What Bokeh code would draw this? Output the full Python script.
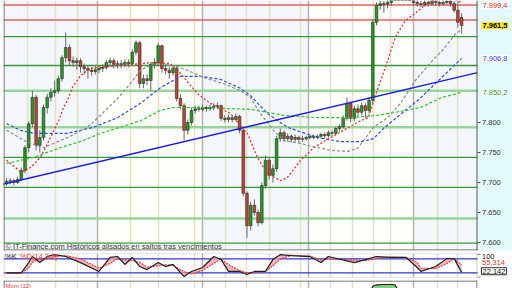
from bokeh.plotting import figure
from bokeh.layouts import column
from bokeh.models import Range1d, Label, Span, BoxAnnotation
from bokeh.embed import file_html
from bokeh.resources import INLINE

FONT = "Liberation Sans"

# ---------------- candles (index 0..123) ----------------
opens = [7698, 7702, 7703, 7700, 7705, 7720, 7758, 7798, 7842, 7762,
         7775, 7825, 7842, 7850, 7853, 7873, 7908, 7925, 7903, 7900,
         7903, 7893, 7890, 7887, 7885, 7888, 7890, 7892, 7900, 7903,
         7897, 7898, 7897, 7900, 7898, 7917, 7933, 7865, 7873, 7870,
         7897, 7900, 7928, 7890, 7887, 7883, 7890, 7840, 7828, 7787,
         7800, 7820, 7823, 7822, 7825, 7823, 7825, 7827, 7828, 7807,
         7805, 7808, 7805, 7810, 7787, 7682, 7628, 7662, 7650, 7633,
         7695, 7737, 7712, 7723, 7773, 7783, 7773, 7777, 7772, 7775,
         7772, 7773, 7775, 7777, 7775, 7777, 7780, 7778, 7783, 7782,
         7790, 7793, 7807, 7832, 7807, 7823, 7817, 7828, 7820, 7837,
         7967, 7995, 7998, 7997, 8000, 8008, 8017, 8023, 8020, 8013,
         8007, 8000, 7998, 7997, 8000, 7998, 8002, 8000, 7998, 8000,
         8002, 7998, 7987, 7975]
highs = [7707, 7707, 7706, 7710, 7725, 7762, 7802, 7853, 7846, 7787,
         7830, 7848, 7857, 7870, 7878, 7912, 7950, 7930, 7910, 7908,
         7907, 7898, 7895, 7893, 7895, 7895, 7897, 7905, 7908, 7907,
         7903, 7904, 7905, 7905, 7922, 7937, 7936, 7880, 7880, 7900,
         7907, 7933, 7930, 7897, 7893, 7895, 7893, 7847, 7832, 7805,
         7825, 7828, 7828, 7830, 7828, 7830, 7832, 7833, 7830, 7812,
         7813, 7812, 7815, 7813, 7790, 7685, 7668, 7672, 7655, 7700,
         7745, 7742, 7730, 7778, 7790, 7787, 7782, 7780, 7780, 7778,
         7778, 7778, 7780, 7780, 7780, 7783, 7783, 7787, 7787, 7793,
         7797, 7812, 7842, 7835, 7828, 7830, 7833, 7832, 7842, 7972,
         8000, 8003, 8003, 8005, 8012, 8022, 8028, 8027, 8022, 8017,
         8010, 8005, 8003, 8005, 8003, 8005, 8005, 8003, 8005, 8005,
         8005, 8002, 8003, 7982]
lows = [7695, 7697, 7695, 7698, 7702, 7715, 7750, 7792, 7753, 7750,
        7770, 7815, 7835, 7843, 7848, 7868, 7900, 7895, 7893, 7888,
        7883, 7880, 7873, 7878, 7880, 7882, 7884, 7888, 7893, 7890,
        7890, 7890, 7892, 7892, 7895, 7912, 7857, 7857, 7862, 7853,
        7890, 7895, 7883, 7880, 7873, 7878, 7835, 7822, 7770, 7780,
        7795, 7815, 7818, 7818, 7818, 7820, 7820, 7822, 7803, 7800,
        7800, 7800, 7802, 7782, 7677, 7608, 7620, 7645, 7627, 7630,
        7690, 7705, 7700, 7718, 7768, 7768, 7768, 7767, 7768, 7765,
        7768, 7770, 7772, 7772, 7772, 7773, 7773, 7775, 7777, 7778,
        7785, 7790, 7803, 7800, 7802, 7810, 7812, 7807, 7815, 7832,
        7962, 7988, 7983, 7990, 7995, 8005, 8012, 8013, 8008, 8002,
        7995, 7993, 7992, 7993, 7993, 7995, 7995, 7993, 7995, 7997,
        7993, 7983, 7958, 7948]
closes = [7702, 7703, 7700, 7705, 7720, 7758, 7798, 7842, 7762, 7775,
          7825, 7842, 7850, 7853, 7873, 7908, 7925, 7903, 7900, 7903,
          7893, 7890, 7887, 7885, 7888, 7890, 7892, 7900, 7903, 7897,
          7898, 7897, 7900, 7898, 7917, 7933, 7865, 7873, 7870, 7897,
          7900, 7928, 7890, 7887, 7883, 7890, 7840, 7828, 7787, 7800,
          7820, 7823, 7822, 7825, 7823, 7825, 7827, 7828, 7807, 7805,
          7808, 7805, 7810, 7787, 7682, 7628, 7662, 7650, 7633, 7695,
          7737, 7712, 7723, 7773, 7783, 7773, 7777, 7772, 7775, 7772,
          7773, 7775, 7777, 7775, 7777, 7780, 7778, 7783, 7782, 7790,
          7793, 7807, 7832, 7807, 7823, 7817, 7828, 7820, 7837, 7967,
          7995, 7998, 7997, 8000, 8008, 8017, 8023, 8020, 8013, 8007,
          8000, 7998, 7997, 8000, 7998, 8002, 8000, 7998, 8000, 8002,
          7998, 7987, 7967, 7961.5]

# ---------------- moving averages (knots) ----------------
red_x = [0, 4, 6.5, 9.2, 11.9, 14.1, 15.4, 16.5, 17.8, 20, 22.7, 25.4, 30.8, 39.7, 44.3, 47, 51.6,
         55.1, 60.5, 65.1, 67.8, 70.5, 74.1, 75.9, 79.5, 83, 87.6, 91.1, 95.7, 97.8, 99.7, 102.4,
         105.1, 107.8, 110.5, 112.4, 115.1, 118.6, 121.4, 123]
red_y = [7737, 7717, 7725, 7742, 7775, 7803, 7825, 7837, 7858, 7878, 7890, 7892, 7895, 7900, 7898,
         7882, 7848, 7832, 7815, 7782, 7742, 7715, 7703, 7708, 7737, 7758, 7775, 7787, 7803, 7808,
         7845, 7892, 7942, 7970, 7982, 7992, 8003, 8008, 8005, 7999.4]
gray_x = [0, 5.7, 10, 16.5, 21.9, 25.4, 30, 33.5, 36.2, 39.7, 45.1, 48.9, 53.2, 58.6, 63.2, 65.9,
          68.6, 72.2, 74.9, 79.5, 84, 88.4, 92.2, 94.9, 96.5, 99.2, 103, 106.5, 110.5, 115.1, 117.8,
          121.4, 123]
gray_y = [7787, 7767, 7758, 7775, 7792, 7812, 7840, 7865, 7887, 7898, 7895, 7887, 7875, 7865, 7853,
          7842, 7815, 7787, 7770, 7765, 7758, 7753, 7752, 7757, 7770, 7792, 7808, 7832, 7870, 7903,
          7920, 7948, 7955]
blue_x = [0, 3.8, 7.3, 16.5, 23.5, 30, 36.2, 41.6, 47, 52.4, 57.8, 63.2, 65.9, 70.5, 75.9, 84, 90.3,
          95.7, 99.2, 101.9, 105.4, 111.4, 116.8, 123]
blue_y = [7798, 7787, 7782, 7782, 7792, 7808, 7832, 7858, 7877, 7877, 7872, 7857, 7845, 7815, 7792,
          7775, 7768, 7768, 7773, 7790, 7808, 7838, 7870, 7906.8]
green_x = [0, 3.8, 7.3, 14.6, 20.8, 25.4, 30.8, 36.2, 41.6, 45.1, 53.2, 60.5, 65.9, 74.9, 84, 93,
           100.3, 107.8, 111.9, 117.8, 123]
green_y = [7732, 7737, 7742, 7758, 7770, 7782, 7792, 7803, 7820, 7825, 7825, 7823, 7822, 7812, 7808,
           7808, 7812, 7820, 7825, 7842, 7850.2]
trend_x = [-1, 127.3]
trend_y = [7696.9, 7883.0]

red_levels = [7996, 7971]
green_levels = [7943, 7895, 7742, 7692, 7599]
lightgreen_levels = [7853, 7792, 7640]

axis_ticks = [7600, 7650, 7700, 7750, 7800]
axis_labels = ["7.600", "7.650", "7.700", "7.750", "7.800"]

value_marks = [7995.3, 7961.5, 7906.8, 7850.2]
value_texts = ["7.999,4", "7.961,5", "7.906,8", "7.850,2"]

grid_light = [5.7, 13.2, 19.2, 33.5, 41.1, 50.8, 59.2, 64.9, 71.1, 79.5, 87.6, 93.5, 99.2, 103.8, 116.5, 121.9]
grid_dark = [24.6, 53, 81.6, 110]

# ---------------- stochastic ----------------
stoch_x = [0, 4, 6, 7, 9, 10, 11, 13, 16, 20, 25, 28, 30, 32, 34, 36, 38, 41, 43, 45, 48, 50, 53, 56,
           58, 60, 63, 65, 67, 70, 72, 74, 77, 82, 85, 87, 94, 97, 100, 104, 108, 111, 112, 116, 119,
           121, 123]
stoch_k = [20, 20, 64, 90, 64, 77, 90, 98, 90, 64, 26, 86, 90, 56, 86, 47, 34, 64, 47, 56, 4, 26, 43,
           90, 77, 26, 26, 13, 26, 26, 77, 98, 94, 90, 64, 90, 64, 77, 90, 86, 86, 43, 26, 47, 81, 81,
           22.142]
stoch_d = [20, 20, 40, 65, 80, 75, 80, 90, 94, 80, 40, 60, 80, 75, 72, 65, 45, 50, 55, 52, 25, 15, 30,
           60, 80, 55, 30, 20, 22, 26, 50, 80, 95, 92, 75, 80, 75, 72, 82, 88, 86, 65, 40, 38, 60, 80,
           55.314]
stoch_levels = [80, 20]

# ---------------- momentum (only its top is visible) ----------------
mom_x = [0, 4, 7, 9, 11, 12, 13, 15, 18, 22, 30, 40, 50, 60, 64, 66, 70, 73, 74, 75, 76, 78, 85, 92,
         98, 99, 100, 102, 104, 105, 106, 108, 112, 118, 123]
mom_v = [10, 30, 70, 95, 112, 115, 112, 100, 80, 50, 20, 10, -20, -40, -90, -150, -60, 80, 112, 113,
         100, 70, 30, 40, 60, 150, 168, 172, 172, 168, 95, 80, 60, 30, -10]

# =====================================================================
# frame covers x = 3 .. 512 px; candle pitch 3.7 px; plot area ends at index 127.3 (px 477)
XMIN, XEND, XMAX = -0.811, 127.3, 136.76
PX = 1 / 3.7            # one pixel in index units
XR = Range1d(XMIN, XMAX)
Y0, Y1 = 7586.7, 8003.3


def base_fig(h, yr, top, bottom):
    f = figure(width=512, height=h, x_range=XR, y_range=yr, output_backend="svg",
               toolbar_location=None, title=None, x_axis_location=None, y_axis_location=None,
               min_border_left=3, min_border_right=0, min_border_top=top, min_border_bottom=bottom)
    f.grid.visible = False
    f.outline_line_color = None
    f.border_fill_color = "#ffffff"
    return f


def lab(f, x, y, text, color="#333333", size="7.5px", **kw):
    f.add_layout(Label(x=x, y=y, text=text, text_font=FONT, text_font_size=size,
                       text_color=color, text_baseline="middle", **kw))


# ---------------- main panel ----------------
p1 = base_fig(251, Range1d(Y0, Y1), 0, 1)
p1.background_fill_color = "#fefefa"
for l, r in [(XMIN, 24.6), (53, 81.6), (110, XEND)]:
    p1.add_layout(BoxAnnotation(left=l, right=r, bottom=Y0, top=Y1, fill_color="#f3f7fb",
                                fill_alpha=1, line_color=None, level="underlay"))
p1.add_layout(BoxAnnotation(left=XEND, right=XMAX, bottom=Y0, top=Y1, fill_color="#e2fafa",
                            fill_alpha=1, line_color=None, level="underlay"))

p1.vspan(x=grid_light, line_color="#e6e0c6", line_width=1.5)
p1.vspan(x=grid_dark, line_color="#b4b4ac", line_width=1.5)


def hlines(f, levels, **kw):
    f.segment(x0=[XMIN] * len(levels), x1=[XEND] * len(levels), y0=levels, y1=levels, **kw)


hlines(p1, lightgreen_levels, line_color="#8fd08f", line_width=2.5, line_alpha=0.9)
hlines(p1, green_levels, line_color="#3a9a3a", line_width=1.3)
hlines(p1, red_levels, line_color="#e06060", line_width=1.5)

up = [c >= o for o, c in zip(opens, closes)]
idx = list(range(len(closes)))
body_top = [max(o, c) for o, c in zip(opens, closes)]
body_bot = [min(o, c) for o, c in zip(opens, closes)]
body_col = ["#1e9e1e" if u else "#c8402a" for u in up]
p1.segment(x0=idx, y0=lows, x1=idx, y1=highs, line_color="#6a6a6a", line_width=1)
p1.vbar(x=idx, width=0.72, top=body_top, bottom=body_bot, fill_color=body_col,
        line_color="#2a2a2a", line_width=0.6)

p1.line(green_x, green_y, line_color="#2ec42e", line_dash="3 2", line_width=1.2)
p1.line(blue_x, blue_y, line_color="#3050e6", line_dash="3 2", line_width=1.2)
p1.line(gray_x, gray_y, line_color="#8c8c8c", line_dash="3 2", line_width=1.2)
p1.line(red_x, red_y, line_color="#e83030", line_dash="2 2", line_width=1.3)
p1.line(trend_x, trend_y, line_color="#1c1ce0", line_width=1.4)

# panel borders (left, right, bottom)
p1.add_layout(Span(location=XMIN + 0.5 * PX, dimension="height", line_color="#555555", line_width=1))
p1.add_layout(Span(location=XEND - 0.5 * PX, dimension="height", line_color="#555555", line_width=1))
p1.segment(x0=[XMIN], x1=[XEND], y0=[Y0 + 0.8], y1=[Y0 + 0.8], line_color="#555555", line_width=1)

# right price scale
p1.segment(x0=[XEND] * len(axis_ticks), x1=[XEND + 3 * PX] * len(axis_ticks),
           y0=axis_ticks, y1=axis_ticks, line_color="#555555", line_width=1)
for t, s in zip(axis_ticks, axis_labels):
    lab(p1, XEND + 4.5 * PX, t, s)

styles = [("#e02020", "white", "normal"), ("#000000", "#ffe81a", "bold"),
          ("#2a40f0", "white", "normal"), ("#1e9e1e", "white", "normal")]
for yv, txt, (col, bg, st) in zip(value_marks, value_texts, styles):
    lab(p1, XEND + 4 * PX, yv, txt, col, text_font_style=st, background_fill_color=bg, padding=1)

lab(p1, -0.3, 7593.3, "\u00a9 IT-Finance.com  Hist\u00f3ricos alisados en saltos tras vencimientos")

# ---------------- stochastic panel ----------------
SY1 = 103
p2 = base_fig(27, Range1d(0, SY1), 2, 1)
p2.background_fill_color = "#ffffff"
p2.vspan(x=grid_light, line_color="#e6e0c6", line_width=1.5)
p2.vspan(x=grid_dark, line_color="#b4b4ac", line_width=1.5)
hlines(p2, stoch_levels, line_color="#3434c8", line_width=1.2)
p2.varea(x=stoch_x, y1=stoch_k, y2=stoch_d, fill_color="#f0a4ae", fill_alpha=0.8)
p2.line(stoch_x, stoch_d, line_color="#e03a3a", line_dash="2 1", line_width=1.1)
p2.line(stoch_x, stoch_k, line_color="#202020", line_width=1.2)
p2.add_layout(BoxAnnotation(left=XMIN + 0.5 * PX, right=XEND - 0.5 * PX, bottom=0.5, top=SY1 - 0.5,
                            fill_color=None, line_color="#555555", line_width=1))
p2.segment(x0=[XEND, XEND], x1=[XEND + 3 * PX] * 2, y0=[100, 1], y1=[100, 1],
           line_color="#555555", line_width=1)
lab(p2, XEND + 4.5 * PX, 90, "100", "#222222")
lab(p2, XEND + 4.5 * PX, 63, "55,314", "#e03a3a")
lab(p2, XEND + 4 * PX, 27, "22,142", "#111111", background_fill_color="white",
    border_line_color="#333333", padding=1)
lab(p2, -0.4, 90, "%K", "#202020")
lab(p2, 3.6, 90, "%D(14,3,5)", "#e03a3a")

# ---------------- momentum panel ----------------
MY0, MY1 = 100, 220
p3 = base_fig(10, Range1d(MY0, MY1), 0, 0)
p3.background_fill_color = "#ffffff"
p3.vspan(x=grid_light, line_color="#e6e0c6", line_width=1.5)
p3.vspan(x=grid_dark, line_color="#b4b4ac", line_width=1.5)
p3.varea(x=mom_x, y1=[0] * len(mom_x), y2=mom_v, fill_color="#7cc87c", fill_alpha=0.9)
p3.line(mom_x, mom_v, line_color="#202020", line_width=1.1)
p3.segment(x0=[XMIN], x1=[XEND], y0=[MY1 - 6], y1=[MY1 - 6], line_color="#555555", line_width=1)
p3.add_layout(Span(location=XMIN + 0.5 * PX, dimension="height", line_color="#555555", line_width=1))
p3.add_layout(Span(location=XEND - 0.5 * PX, dimension="height", line_color="#555555", line_width=1))
p3.add_layout(BoxAnnotation(left=XEND, right=XMAX, bottom=MY0, top=MY1, fill_color="#ffffff",
                            fill_alpha=1, line_color=None))
lab(p3, -0.3, 160, "Mom (12)", "#e03a3a", size="6px")

layout = column(p1, p2, p3, spacing=0)
open("out.html", "w").write(file_html(layout, INLINE))
